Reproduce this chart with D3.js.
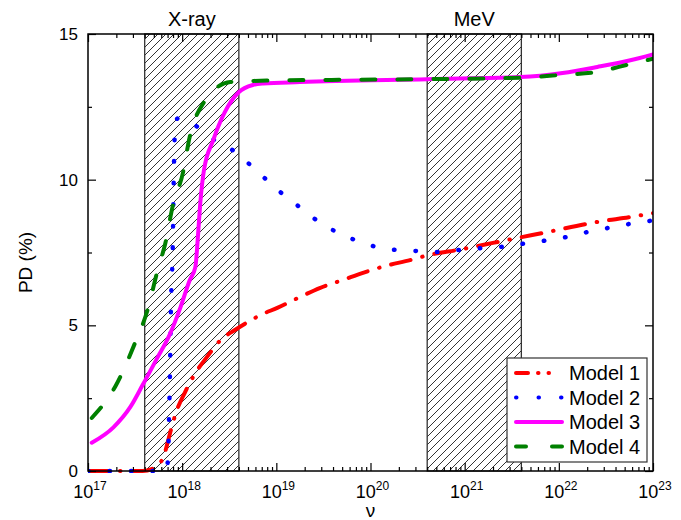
<!DOCTYPE html>
<html>
<head>
<meta charset="utf-8">
<script src="https://cdn.jsdelivr.net/npm/d3@7"></script>
<style>
  body { margin: 0; background: #fff; }
  text { font-family: Arial, "Liberation Sans", sans-serif; fill: #000; }
</style>
</head>
<body>
<script>
// log10(nu) and PD (%)
const m1LogNu = [17.0, 17.58, 17.71, 17.8, 17.88, 17.93, 18.03, 18.14, 18.26, 18.41, 18.56, 18.69, 18.83, 19.01, 19.25, 19.46, 19.71, 19.92, 20.15, 20.42, 20.63, 20.95, 21.3, 21.56, 21.83, 22.41, 22.76, 23.0];
const m1PD = [0, 0, 0.12, 0.48, 1.4, 1.96, 2.7, 3.36, 3.9, 4.5, 4.84, 5.1, 5.35, 5.6, 5.97, 6.28, 6.56, 6.8, 7.03, 7.24, 7.42, 7.6, 7.83, 8.0, 8.17, 8.55, 8.72, 8.85];

const m2LogNu = [17.0, 17.82, 17.85, 17.86, 17.87, 17.88, 17.9, 17.91, 17.92, 17.95, 18.12, 18.32, 18.52, 18.69, 18.86, 19.04, 19.23, 19.41, 19.6, 19.81, 20.03, 20.26, 20.49, 20.72, 20.95, 21.18, 21.41, 21.62, 21.84, 22.08, 22.3, 22.52, 22.75, 23.0];
const m2PD = [0, 0, 0.38, 1.8, 3.3, 5.5, 7.7, 9.95, 11.4, 12.1, 11.9, 11.4, 11.05, 10.6, 10.1, 9.58, 9.1, 8.65, 8.27, 7.96, 7.72, 7.59, 7.55, 7.52, 7.59, 7.65, 7.7, 7.8, 7.9, 8.03, 8.2, 8.34, 8.48, 8.6];

const m3LogNu = [17.04, 17.27, 17.45, 17.58, 17.73, 17.87, 17.98, 18.08, 18.14, 18.17, 18.19, 18.23, 18.33, 18.45, 18.6, 18.75, 18.86, 19.25, 20.6, 21.59, 22.04, 22.41, 22.76, 23.0];
const m3PD = [0.97, 1.5, 2.2, 2.95, 3.85, 4.7, 5.6, 6.55, 7.0, 8.17, 9.1, 10.3, 11.36, 12.3, 13.0, 13.25, 13.3, 13.35, 13.45, 13.52, 13.66, 13.87, 14.1, 14.3];

const m4LogNu = [17.04, 17.29, 17.5, 17.63, 17.74, 17.82, 17.9, 18.01, 18.08, 18.22, 18.51, 18.9, 20.6, 21.59, 22.04, 22.41, 22.76, 23.0];
const m4PD = [1.82, 2.9, 4.4, 5.5, 6.9, 7.8, 9.1, 10.26, 11.47, 12.6, 13.35, 13.4, 13.45, 13.5, 13.6, 13.7, 13.97, 14.15];

const bandNames = ["X-ray", "MeV"];
const bandFrom = [4e17, 4e20];
const bandTo = [4e18, 4e21];

const modelNames = ["Model 1", "Model 2", "Model 3", "Model 4"];
const modelColors = ["#ff0000", "#0000ff", "#ff00ff", "#008000"];
const modelDash = ["20,12,0.5,12", "0.5,21", null, "14,22"];

const xExps = [17, 18, 19, 20, 21, 22, 23];
const yTicks = [0, 5, 10, 15];

const w = 681;
const h = 520;
const padLeft = 88, padRight = 653, padTop = 34, padBottom = 471;

const svg = d3.select("body").append("svg").attr("width", w).attr("height", h);

const x = d3.scaleLog().domain([1e17, 1e23]).range([padLeft, padRight]);
const y = d3.scaleLinear().domain([0, 15]).range([padBottom, padTop]);

// hatch pattern
const defs = svg.append("defs");
defs.append("pattern")
  .attr("id", "hatch")
  .attr("patternUnits", "userSpaceOnUse")
  .attr("width", 8)
  .attr("height", 8)
  .append("path")
  .attr("d", "M-2,2 l4,-4 M0,8 l8,-8 M6,10 l4,-4")
  .attr("stroke", "#000")
  .attr("stroke-width", 0.8);

bandNames.forEach((name, i) => {
  svg.append("rect")
    .attr("x", x(bandFrom[i]))
    .attr("y", padTop)
    .attr("width", x(bandTo[i]) - x(bandFrom[i]))
    .attr("height", padBottom - padTop)
    .attr("fill", "url(#hatch)")
    .attr("stroke", "#333")
    .attr("stroke-width", 1.3);
  svg.append("text")
    .attr("x", (x(bandFrom[i]) + x(bandTo[i])) / 2)
    .attr("y", 26)
    .attr("text-anchor", "middle")
    .attr("font-size", 20)
    .text(name);
});

// curves
const series = [[m1LogNu, m1PD], [m2LogNu, m2PD], [m3LogNu, m3PD], [m4LogNu, m4PD]];
const line = d3.line()
  .x((d) => x(Math.pow(10, d[0])))
  .y((d) => y(d[1]))
  .curve(d3.curveMonotoneX);

svg.append("clipPath").attr("id", "clip")
  .append("rect").attr("x", padLeft).attr("y", padTop - 2)
  .attr("width", padRight - padLeft).attr("height", padBottom - padTop + 4);

series.forEach((s, i) => {
  const pts = s[0].map((v, j) => [v, s[1][j]]);
  svg.append("path")
    .datum(pts)
    .attr("clip-path", "url(#clip)")
    .attr("d", line)
    .attr("fill", "none")
    .attr("stroke", modelColors[i])
    .attr("stroke-width", i === 1 ? 4.5 : 4)
    .attr("stroke-linecap", "round")
    .attr("stroke-dasharray", modelDash[i]);
});

// axes
const majors = xExps.map((e) => Math.pow(10, e));
const minors = [];
xExps.slice(0, -1).forEach((e) => {
  for (let k = 2; k <= 9; k++) minors.push(k * Math.pow(10, e));
});

svg.append("g").attr("transform", `translate(0,${padBottom})`)
  .call(d3.axisBottom(x).tickValues(majors).tickSize(-8).tickFormat(""))
  .call((g) => g.select(".domain").remove());
svg.append("g").attr("transform", `translate(0,${padBottom})`)
  .call(d3.axisBottom(x).tickValues(minors).tickSize(-4).tickFormat(""))
  .call((g) => g.select(".domain").remove());
svg.append("g").attr("transform", `translate(0,${padTop})`)
  .call(d3.axisTop(x).tickValues(majors).tickSize(-8).tickFormat(""))
  .call((g) => g.select(".domain").remove());
svg.append("g").attr("transform", `translate(0,${padTop})`)
  .call(d3.axisTop(x).tickValues(minors).tickSize(-4).tickFormat(""))
  .call((g) => g.select(".domain").remove());

const yMinors = [2.5, 7.5, 12.5];
svg.append("g").attr("transform", `translate(${padLeft},0)`)
  .call(d3.axisLeft(y).tickValues(yTicks).tickSize(-8).tickFormat(""))
  .call((g) => g.select(".domain").remove());
svg.append("g").attr("transform", `translate(${padLeft},0)`)
  .call(d3.axisLeft(y).tickValues(yMinors).tickSize(-4).tickFormat(""))
  .call((g) => g.select(".domain").remove());
svg.append("g").attr("transform", `translate(${padRight},0)`)
  .call(d3.axisRight(y).tickValues(yTicks).tickSize(-8).tickFormat(""))
  .call((g) => g.select(".domain").remove());
svg.append("g").attr("transform", `translate(${padRight},0)`)
  .call(d3.axisRight(y).tickValues(yMinors).tickSize(-4).tickFormat(""))
  .call((g) => g.select(".domain").remove());
svg.selectAll(".tick line").attr("stroke", "#000").attr("stroke-width", 1.2);

svg.append("rect")
  .attr("x", padLeft).attr("y", padTop)
  .attr("width", padRight - padLeft).attr("height", padBottom - padTop)
  .attr("fill", "none").attr("stroke", "#000").attr("stroke-width", 1.5);

// tick labels
yTicks.forEach((t) => {
  svg.append("text")
    .attr("x", padLeft - 10)
    .attr("y", y(t) + 6)
    .attr("text-anchor", "end")
    .attr("font-size", 17)
    .text(t);
});
xExps.forEach((e) => {
  const t = svg.append("text")
    .attr("x", x(Math.pow(10, e)) + 2)
    .attr("y", 498)
    .attr("text-anchor", "middle")
    .attr("font-size", 18);
  t.append("tspan").text("10");
  t.append("tspan").attr("dy", -8).attr("font-size", 12).text(e);
});

svg.append("text")
  .attr("transform", `translate(32,${(padTop + padBottom) / 2 + 10}) rotate(-90)`)
  .attr("text-anchor", "middle")
  .attr("font-size", 19)
  .text("PD (%)");
svg.append("text")
  .attr("x", (padLeft + padRight) / 2)
  .attr("y", 517)
  .attr("text-anchor", "middle")
  .attr("font-size", 19)
  .text("ν");

// legend
const lg = svg.append("g");
lg.append("rect")
  .attr("x", 507).attr("y", 358)
  .attr("width", 140).attr("height", 104)
  .attr("fill", "#fff").attr("stroke", "#333").attr("stroke-width", 1.2);
modelNames.forEach((name, i) => {
  const ly = 373 + i * 24.5;
  lg.append("line")
    .attr("x1", 516).attr("x2", 562)
    .attr("y1", ly).attr("y2", ly)
    .attr("stroke", modelColors[i])
    .attr("stroke-width", 4)
    .attr("stroke-linecap", "round")
    .attr("stroke-dasharray", i === 0 ? "12,10,0.5,10,0.5,20" : i === 1 ? "0.5,22" : i === 3 ? "10,26" : null);
  lg.append("text")
    .attr("x", 569)
    .attr("y", ly + 7)
    .attr("font-size", 20)
    .text(name);
});
</script>
</body>
</html>
